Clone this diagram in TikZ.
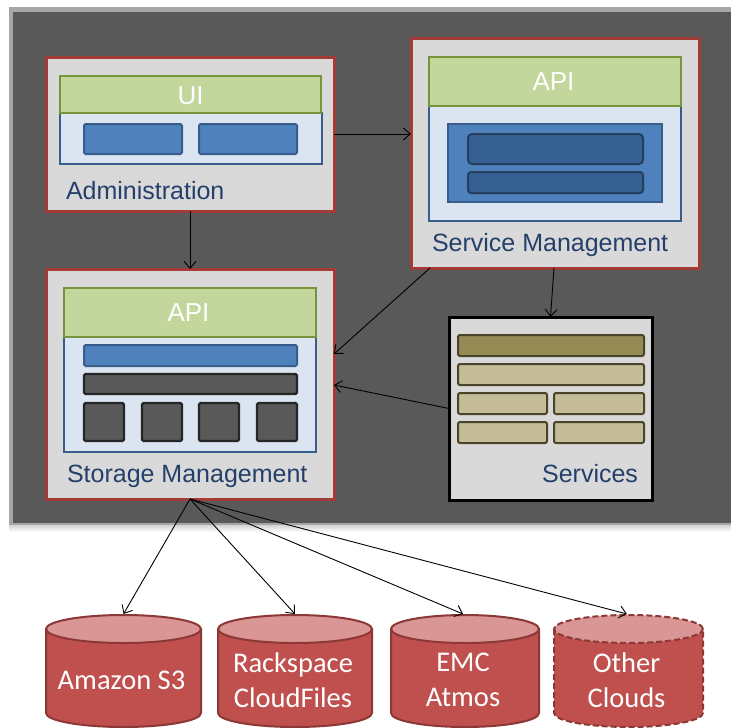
\documentclass[tikz,border=0pt]{standalone}
\usepackage{fontspec}
\setmainfont{Liberation Sans}
\newfontfamily\calfont{Carlito}
\usetikzlibrary{arrows.meta,calc}
\definecolor{panel}{HTML}{595959}
\definecolor{panelEdge}{HTML}{A6A6A6}
\definecolor{redb}{HTML}{A33B38}
\definecolor{boxgray}{HTML}{D9D9D9}
\definecolor{greenf}{HTML}{C3D69B}
\definecolor{greenb}{HTML}{77933C}
\definecolor{lblue}{HTML}{DBE5F1}
\definecolor{blueb}{HTML}{385D8A}
\definecolor{bluef}{HTML}{4F81BD}
\definecolor{dblue}{HTML}{366092}
\definecolor{dblueb}{HTML}{243F60}
\definecolor{darkb}{HTML}{262626}
\definecolor{oliveD}{HTML}{948A54}
\definecolor{oliveL}{HTML}{C4BD97}
\definecolor{oliveB}{HTML}{4A452A}
\definecolor{cylbodyc}{HTML}{C0504D}
\definecolor{cyltopc}{HTML}{D99694}
\definecolor{cylb}{HTML}{8C3836}
\definecolor{lbltext}{HTML}{24406A}
\tikzset{
  rbox/.style={draw=redb,fill=boxgray,line width=3pt,inner sep=0pt,outer sep=0pt},
  sbox/.style={draw=black,fill=boxgray,line width=3pt,inner sep=0pt,outer sep=0pt},
  gbar/.style={draw=greenb,fill=greenf,line width=2pt,inner sep=0pt,outer sep=0pt},
  gtext/.style={inner sep=0pt,outer sep=0pt,text=white,font=\fontsize{26}{30}\selectfont},
  lpanel/.style={draw=blueb,fill=lblue,line width=2pt,inner sep=0pt,outer sep=0pt},
  bitem/.style={draw=blueb,fill=bluef,line width=2pt,inner sep=0pt,outer sep=0pt,rounded corners=1.5pt},
  dbitem/.style={draw=dblueb,fill=dblue,line width=2pt,inner sep=0pt,outer sep=0pt,rounded corners=4pt},
  ditem/.style={draw=darkb,fill=panel,line width=2.2pt,inner sep=0pt,outer sep=0pt,rounded corners=1.5pt},
  oitemD/.style={draw=oliveB,fill=oliveD,line width=2pt,inner sep=0pt,outer sep=0pt,rounded corners=2pt},
  oitemL/.style={draw=oliveB,fill=oliveL,line width=2pt,inner sep=0pt,outer sep=0pt,rounded corners=2pt},
  lbl/.style={inner sep=0pt,outer sep=0pt,text=lbltext,font=\fontsize{25}{30}\selectfont},
  cylbody/.style={fill=cylbodyc,draw=cylb,line width=2pt},
  cyltop/.style={fill=cyltopc,draw=cylb,line width=2pt},
  cyltext/.style={inner sep=0pt,text=white,align=center,font=\calfont\fontsize{28.5}{35}\selectfont},
  dashcyl/.style={dash pattern=on 6pt off 3pt},
  arr/.style={draw=black,line width=0.9pt,-{Straight Barb[length=7pt,width=12pt]}}
}
\newcommand\drawcyl[5]{%
  \path[cylbody,#4] (#2-#3,-629) -- (#2-#3,-713) arc[start angle=180,end angle=360,x radius=#3,y radius=14] -- (#2+#3,-629) -- cycle;
  \path[cyltop,#4] (#2,-629) ellipse[x radius=#3,y radius=14];
  \coordinate (#1) at (#2,-614);
  \node[cyltext] (#1txt) at (#2-2,-680) {#5};
}
\begin{document}
\begin{tikzpicture}[x=1pt,y=1pt]
\useasboundingbox (0,0) rectangle (731,-728);
\fill[white] (0,0) rectangle (731,-728);
% panel
\shade[top color=panelEdge!70,bottom color=white] (9,-522) rectangle (731,-532);
\fill[panelEdge] (9,-7) rectangle (731,-525);
\fill[panel] (13,-12) rectangle (731,-523);

% Administration
\node[rbox,minimum width=288,minimum height=154] (admin) at (190,-134) {};
\node[lpanel,minimum width=262,minimum height=51] (adminpanel) at (191,-138.5) {};
\node[gbar,minimum width=261,minimum height=37] (ui) at (190.5,-94.5) {};
\node[gtext] (uitext) at (190.5,-96) {UI};
\node[bitem,minimum width=98,minimum height=30] (a1) at (133,-139) {};
\node[bitem,minimum width=98,minimum height=30] (a2) at (248,-139) {};
\node[lbl,anchor=base west] (adminlbl) at (66,-199) {Administration};

% Service Management
\node[rbox,minimum width=288,minimum height=230] (service) at (555,-153) {};
\node[lpanel,minimum width=252,minimum height=115] (servpanel) at (555,-163.5) {};
\node[gbar,minimum width=252,minimum height=49] (sapi) at (555,-81.5) {};
\node[gtext] (sapitext) at (553.5,-81.5) {API};
\node[draw=blueb,fill=bluef,line width=2pt,inner sep=0pt,minimum width=214,minimum height=78] (s0) at (555,-163) {};
\node[dbitem,minimum width=175,minimum height=30] (s1) at (555.5,-149) {};
\node[dbitem,minimum width=175,minimum height=21,rounded corners=3pt] (s2) at (555.5,-182.5) {};
\node[lbl,anchor=base west] (servlbl) at (432,-251) {Service Management};

% Storage Management
\node[rbox,minimum width=288,minimum height=230] (storage) at (190,-384) {};
\node[lpanel,minimum width=252,minimum height=115] (storpanel) at (190,-394.5) {};
\node[gbar,minimum width=252,minimum height=49] (tapi) at (190,-312.5) {};
\node[gtext] (tapitext) at (188.5,-312.5) {API};
\node[bitem,minimum width=213,minimum height=21] (t1) at (190.5,-355.5) {};
\node[ditem,minimum width=213,minimum height=20] (t2) at (190.5,-384) {};
\node[ditem,minimum width=40,minimum height=38] (q1) at (104,-422) {};
\node[ditem,minimum width=40,minimum height=38] (q2) at (162,-422) {};
\node[ditem,minimum width=40,minimum height=38] (q3) at (219,-422) {};
\node[ditem,minimum width=40,minimum height=38] (q4) at (277,-422) {};
\node[lbl,anchor=base west] (storlbl) at (67,-482) {Storage Management};

% Services
\node[sbox,minimum width=203,minimum height=183] (services) at (550.5,-408.5) {};
\node[oitemD,minimum width=186,minimum height=21] (v1) at (551,-345.5) {};
\node[oitemL,minimum width=186,minimum height=21] (v2) at (551,-374.5) {};
\node[oitemL,minimum width=89,minimum height=21] (v3) at (502.5,-403.5) {};
\node[oitemL,minimum width=90,minimum height=21] (v4) at (599,-403.5) {};
\node[oitemL,minimum width=89,minimum height=21] (v5) at (502.5,-432.5) {};
\node[oitemL,minimum width=90,minimum height=21] (v6) at (599,-432.5) {};
\node[lbl,anchor=base east] (servicesl) at (638,-482) {Services};

% connectors inside panel
\draw[arr] (admin.east) -- (admin.east -| service.west);
\draw[arr] (admin.south) -- (storage.north);
\draw[arr] ([xshift=19pt]service.south west) -- ([yshift=30pt]storage.east);
\draw[arr] ([xshift=-1pt]service.south) -- (services.north);
\draw[arr] (services.west) -- ([yshift=-1pt]storage.east);

% cylinders
\drawcyl{amz}{123.5}{77.5}{}{Amazon S3}
\drawcyl{rack}{295}{77}{}{Rackspace\\CloudFiles}
\drawcyl{emc}{465}{74}{}{EMC\\Atmos}
\drawcyl{other}{628.5}{74.5}{dashcyl}{Other\\Clouds}

\draw[arr] (storage.south) -- (amz);
\draw[arr] (storage.south) -- (rack);
\draw[arr] (storage.south) -- ([xshift=-2pt]emc);
\draw[arr] (storage.south) -- ([xshift=-1.5pt]other);
\end{tikzpicture}
\end{document}
